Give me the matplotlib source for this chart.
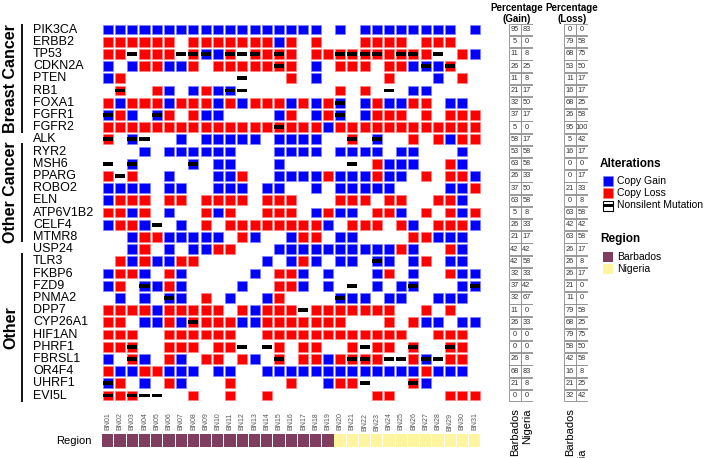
import matplotlib
matplotlib.use("Agg")
import matplotlib.pyplot as plt
from matplotlib.patches import Rectangle
from matplotlib.transforms import blended_transform_factory

plt.rcParams['font.family'] = ['Liberation Sans', 'DejaVu Sans']

# genes (rows) and their groups
genes = ["PIK3CA", "ERBB2", "TP53", "CDKN2A", "PTEN", "RB1", "FOXA1", "FGFR1", "FGFR2",
         "ALK", "RYR2", "MSH6", "PPARG", "ROBO2", "ELN", "ATP6V1B2", "CELF4", "MTMR8", "USP24",
         "TLR3", "FKBP6", "FZD9", "PNMA2", "DPP7", "CYP26A1", "HIF1AN", "PHRF1", "FBRSL1",
         "OR4F4", "UHRF1", "EVI5L"]
group_names = ["Breast Cancer", "Other Cancer", "Other"]

samples = ["BN%02d" % i for i in range(1, 32)]
regions = ["Barbados"] * 19 + ["Nigeria"] * 12

# B = copy gain, R = copy loss, m = mutation only, b/r = gain/loss + mutation
alterations = [
    "BBBBBBBBBBBBBBBBBB.B.BBBBBBBB.B",
    "RRRRRR.RRRRRRRBR.R...RRRR.RRR..",
    "RRmRRRmrbBrmrRrR.RRrrrrRrrRm.RB",
    "B.BRRBBR.RRRRRrR.B.RRR.RRBbBr..",
    "BR.........m...R.B.....R...B.R.",
    ".r..RB.BRBbm.......R.R.m.BB....",
    "RBRRRBRRRBRBRRRBRBRb.BRBBRR.BB.",
    "bRB.bR.RBB....BR.BRb.BRRR.R.RRR",
    "RRRRRRRRRRRRRRrRRRBRRRRRRRRRRRR",
    "r.bm..B.BBBBB.BBBB..r.b..R.RBRR",
    "...B.BBBBBB...BBBB.BBBB.BB...B.",
    "m.b....b.BB...B.....m.RBBB..RB.",
    "RmR..B...BBR..BBBBRBBBRBB.R.RRB",
    "BBBB.BB..BBB.BB..B.BBBBB....BBR",
    "BRRR.RR.RRRR.RRR...RRR.RR..RRB.",
    "RRBR.B..RBR..RRR.BRBB.RRB.R.RBR",
    "BRRBm.B.R.RRRRRRRRB.RRR.RB.RRRB",
    "..BRRBBBBB.RB..BRR.BB....RRBBB.",
    "..BR.B.BBRR...BBBBBBBBBBRB..RB.",
    ".RBRBBRR.....B.BRB.BB.bB.BR.BB.",
    "BRRB.RB.....B.RRB.B...BR.B..RBB",
    "BR.bBRB....B..RRB.B.m.B.Bb...Bb",
    ".B.B.bB.R.B..BR....bBB.BB..BBB.",
    "RRRRBRRRRR.RBRRRmRRRRRRR..R.R..",
    "RR.BBRBrRRRBBRRRRRRR...R.RBB.BB",
    "RRR..RRRRRR..RRRRRRRRRRRR..RRR.",
    "RRr..RRR.RRm.mR.RR..RmRR.r..rR.",
    "B.rB.RB.RR.RB.r.RRBRrrRmmRbmRR.",
    "RBBRRBBB.BB..BBBBBBBBBBBBBRBBB.",
    "bR.B.RB...R....R..BRRm...rB....",
    "rRrmm..R..R..R........RR....RRR",
]

# percentage tables as printed
gain_barbados = [95, 5, 11, 26, 11, 21, 32, 37, 5, 58, 53, 63, 26, 37, 63, 5, 26, 21, 42, 42,
                 32, 37, 32, 11, 26, 0, 0, 26, 68, 21, 0]
gain_nigeria = [83, 0, 8, 25, 8, 17, 50, 17, 0, 17, 58, 58, 33, 50, 58, 8, 33, 17, 42, 58,
                33, 42, 67, 0, 33, 0, 0, 8, 83, 8, 0]
loss_barbados = [0, 79, 68, 53, 11, 16, 68, 26, 95, 5, 16, 0, 0, 21, 0, 63, 42, 63, 26, 26,
                 26, 21, 11, 79, 68, 79, 58, 42, 16, 21, 32]
loss_nigeria = [0, 58, 75, 50, 17, 17, 25, 58, 100, 42, 17, 0, 17, 33, 8, 58, 42, 58, 17, 8,
                17, 0, 0, 58, 25, 75, 50, 58, 8, 25, 42]

GAIN = "#0000FF"
LOSS = "#FF0000"
region_colors = {"Barbados": "#7F3D60", "Nigeria": "#FFF59F"}

W, H = 706, 458


def fx(px):
    return px / W


def fy(py):
    return 1 - py / H


n_genes = len(genes)
n_samples = len(samples)

fig = plt.figure(figsize=(W / 100, H / 100), dpi=100)

top, bottom = 23.4, 401.6
ax = fig.add_axes([fx(101.7), fy(bottom), 379 / W, (bottom - top) / H])
ax.set_xlim(-0.5, n_samples - 0.5)
ax.set_ylim(n_genes - 0.5, -0.5)
ax.axis("off")

cw, chh, mh = 0.82, 0.8, 0.32
for i, row in enumerate(alterations):
    for j, c in enumerate(row):
        if c in "Bb":
            ax.add_patch(Rectangle((j - cw / 2, i - chh / 2), cw, chh, facecolor=GAIN,
                                   edgecolor="#7f7fff", lw=0.5))
        elif c in "Rr":
            ax.add_patch(Rectangle((j - cw / 2, i - chh / 2), cw, chh, facecolor=LOSS,
                                   edgecolor="#ff8080", lw=0.5))
        if c in "mbr":
            ax.add_patch(Rectangle((j - cw / 2, i - mh / 2), cw, mh, facecolor="black",
                                   edgecolor="none"))

# sample names under the matrix
for j, s in enumerate(samples):
    ax.text(j, n_genes - 0.5 + 0.9, s, rotation=90, ha="center", va="top",
            fontsize=5, color="#555555")

# gene labels + group brackets
trans = blended_transform_factory(fig.transFigure, ax.transData)
for i, g in enumerate(genes):
    ax.text(fx(33), i, g, transform=trans, ha="left", va="center", fontsize=9)

group_spans = [(-0.45, 8.5), (9.33, 17.4), (18.34, 30.5)]
for name, (a, b) in zip(group_names, group_spans):
    ax.plot([fx(22), fx(22)], [a, b], transform=trans, color="black", lw=1.3,
            clip_on=False, solid_capstyle="butt")
    ax.text(fx(10.5), (a + b) / 2, name, transform=trans, rotation=90, ha="center",
            va="center", fontsize=11.5, fontweight="bold")

# region bar
rax = fig.add_axes([fx(101.7), fy(447), 379 / W, 13 / H])
rax.set_xlim(-0.5, n_samples - 0.5)
rax.set_ylim(0, 1)
rax.axis("off")
for j, r in enumerate(regions):
    rax.add_patch(Rectangle((j - 0.46, 0), 0.92, 1, facecolor=region_colors[r],
                            edgecolor="none"))
fig.text(fx(92), fy(440.5), "Region", ha="right", va="center", fontsize=8)


# percentage tables
def draw_table(x0, barb, nig, title):
    tax = fig.add_axes([fx(x0), fy(bottom), 24 / W, (bottom - top) / H])
    tax.set_xlim(0, 2)
    tax.set_ylim(n_genes, 0)
    tax.axis("off")
    for r in range(n_genes):
        for c, vals in enumerate([barb, nig]):
            tax.add_patch(Rectangle((c, r + 0.04), 1, 0.92, facecolor="white",
                                    edgecolor="#8a8a8a", lw=0.6))
            tax.text(c + 0.5, r + 0.5, str(vals[r]), ha="center", va="center",
                     fontsize=5.3, color="#333333")
    xc = x0 + 8
    fig.text(fx(xc), fy(8), "Percentage", ha="center", va="center", fontsize=7,
             fontweight="bold")
    fig.text(fx(xc), fy(19), title, ha="center", va="center", fontsize=7,
             fontweight="bold")


draw_table(508.5, gain_barbados, gain_nigeria, "(Gain)")
draw_table(564, loss_barbados, loss_nigeria, "(Loss)")

fig.text(fx(515.5), fy(408), "Barbados", rotation=90, ha="center", va="top", fontsize=8)
fig.text(fx(527), fy(408), "Nigeria", rotation=90, ha="center", va="top", fontsize=8)
fig.text(fx(570), fy(408), "Barbados", rotation=90, ha="center", va="top", fontsize=8)
fig.text(fx(582), fy(449), "Nigeria", rotation=90, ha="center", va="top", fontsize=8)

# legends, drawn in pixel coordinates
lax = fig.add_axes([0, 0, 1, 1], zorder=-1)
lax.set_xlim(0, W)
lax.set_ylim(H, 0)
lax.axis("off")

lax.text(600, 164, "Alterations", ha="left", va="center", fontsize=8.5, fontweight="bold")
lax.add_patch(Rectangle((603, 175.5), 10, 10, facecolor=GAIN, edgecolor="#7f7fff", lw=0.5))
lax.text(617, 180.5, "Copy Gain", ha="left", va="center", fontsize=7.5)
lax.add_patch(Rectangle((603, 188), 10, 10, facecolor=LOSS, edgecolor="#ff8080", lw=0.5))
lax.text(617, 193, "Copy Loss", ha="left", va="center", fontsize=7.5)
lax.add_patch(Rectangle((603, 200.5), 10, 10, facecolor="white", edgecolor="black", lw=0.8))
lax.add_patch(Rectangle((603, 204), 10, 3.2, facecolor="black", edgecolor="none"))
lax.text(617, 205.5, "Nonsilent Mutation", ha="left", va="center", fontsize=7.5)

lax.text(600, 239, "Region", ha="left", va="center", fontsize=8.5, fontweight="bold")
lax.add_patch(Rectangle((603, 252), 10, 10, facecolor=region_colors["Barbados"],
                        edgecolor="none"))
lax.text(617, 257, "Barbados", ha="left", va="center", fontsize=7.5)
lax.add_patch(Rectangle((603, 264), 10, 10, facecolor=region_colors["Nigeria"],
                        edgecolor="none"))
lax.text(617, 269, "Nigeria", ha="left", va="center", fontsize=7.5)

fig.savefig("out.png", dpi=100)
